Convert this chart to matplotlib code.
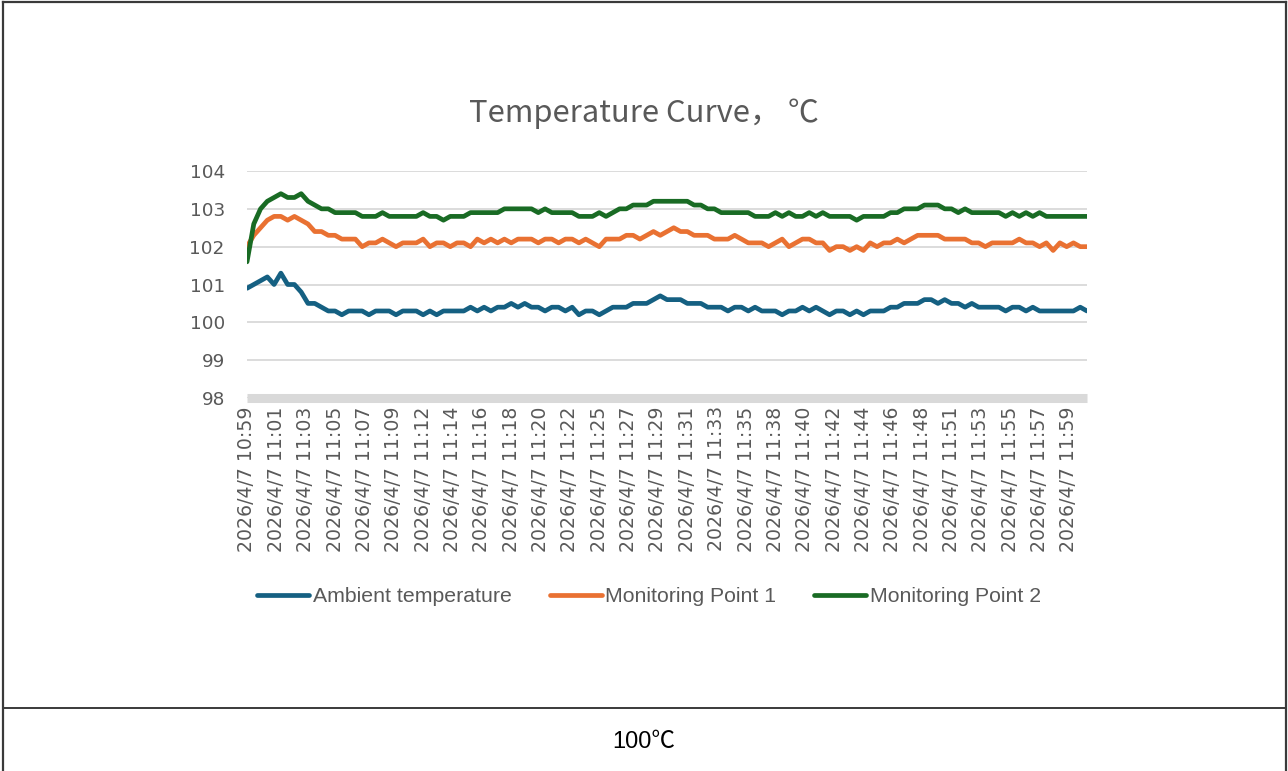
import matplotlib.pyplot as plt
import numpy as np
from matplotlib.lines import Line2D

# lecturas cada 30 s desde 2026/4/7 10:59
intervalo = 30  # segundos entre lecturas
paso_etiqueta = 130  # segundos entre etiquetas del eje x

ambiente = [
    100.9, 101.0, 101.1, 101.2, 101.0, 101.3, 101.0, 101.0, 100.8, 100.5,
    100.5, 100.4, 100.3, 100.3, 100.2, 100.3, 100.3, 100.3, 100.2, 100.3,
    100.3, 100.3, 100.2, 100.3, 100.3, 100.3, 100.2, 100.3, 100.2, 100.3,
    100.3, 100.3, 100.3, 100.4, 100.3, 100.4, 100.3, 100.4, 100.4, 100.5,
    100.4, 100.5, 100.4, 100.4, 100.3, 100.4, 100.4, 100.3, 100.4, 100.2,
    100.3, 100.3, 100.2, 100.3, 100.4, 100.4, 100.4, 100.5, 100.5, 100.5,
    100.6, 100.7, 100.6, 100.6, 100.6, 100.5, 100.5, 100.5, 100.4, 100.4,
    100.4, 100.3, 100.4, 100.4, 100.3, 100.4, 100.3, 100.3, 100.3, 100.2,
    100.3, 100.3, 100.4, 100.3, 100.4, 100.3, 100.2, 100.3, 100.3, 100.2,
    100.3, 100.2, 100.3, 100.3, 100.3, 100.4, 100.4, 100.5, 100.5, 100.5,
    100.6, 100.6, 100.5, 100.6, 100.5, 100.5, 100.4, 100.5, 100.4, 100.4,
    100.4, 100.4, 100.3, 100.4, 100.4, 100.3, 100.4, 100.3, 100.3, 100.3,
    100.3, 100.3, 100.3, 100.4, 100.3,
]
punto_1 = [
    102.0, 102.3, 102.5, 102.7, 102.8, 102.8, 102.7, 102.8, 102.7, 102.6,
    102.4, 102.4, 102.3, 102.3, 102.2, 102.2, 102.2, 102.0, 102.1, 102.1,
    102.2, 102.1, 102.0, 102.1, 102.1, 102.1, 102.2, 102.0, 102.1, 102.1,
    102.0, 102.1, 102.1, 102.0, 102.2, 102.1, 102.2, 102.1, 102.2, 102.1,
    102.2, 102.2, 102.2, 102.1, 102.2, 102.2, 102.1, 102.2, 102.2, 102.1,
    102.2, 102.1, 102.0, 102.2, 102.2, 102.2, 102.3, 102.3, 102.2, 102.3,
    102.4, 102.3, 102.4, 102.5, 102.4, 102.4, 102.3, 102.3, 102.3, 102.2,
    102.2, 102.2, 102.3, 102.2, 102.1, 102.1, 102.1, 102.0, 102.1, 102.2,
    102.0, 102.1, 102.2, 102.2, 102.1, 102.1, 101.9, 102.0, 102.0, 101.9,
    102.0, 101.9, 102.1, 102.0, 102.1, 102.1, 102.2, 102.1, 102.2, 102.3,
    102.3, 102.3, 102.3, 102.2, 102.2, 102.2, 102.2, 102.1, 102.1, 102.0,
    102.1, 102.1, 102.1, 102.1, 102.2, 102.1, 102.1, 102.0, 102.1, 101.9,
    102.1, 102.0, 102.1, 102.0, 102.0,
]
punto_2 = [
    101.6, 102.6, 103.0, 103.2, 103.3, 103.4, 103.3, 103.3, 103.4, 103.2,
    103.1, 103.0, 103.0, 102.9, 102.9, 102.9, 102.9, 102.8, 102.8, 102.8,
    102.9, 102.8, 102.8, 102.8, 102.8, 102.8, 102.9, 102.8, 102.8, 102.7,
    102.8, 102.8, 102.8, 102.9, 102.9, 102.9, 102.9, 102.9, 103.0, 103.0,
    103.0, 103.0, 103.0, 102.9, 103.0, 102.9, 102.9, 102.9, 102.9, 102.8,
    102.8, 102.8, 102.9, 102.8, 102.9, 103.0, 103.0, 103.1, 103.1, 103.1,
    103.2, 103.2, 103.2, 103.2, 103.2, 103.2, 103.1, 103.1, 103.0, 103.0,
    102.9, 102.9, 102.9, 102.9, 102.9, 102.8, 102.8, 102.8, 102.9, 102.8,
    102.9, 102.8, 102.8, 102.9, 102.8, 102.9, 102.8, 102.8, 102.8, 102.8,
    102.7, 102.8, 102.8, 102.8, 102.8, 102.9, 102.9, 103.0, 103.0, 103.0,
    103.1, 103.1, 103.1, 103.0, 103.0, 102.9, 103.0, 102.9, 102.9, 102.9,
    102.9, 102.9, 102.8, 102.9, 102.8, 102.9, 102.8, 102.9, 102.8, 102.8,
    102.8, 102.8, 102.8, 102.8, 102.8,
]

nombres = ["Ambient temperature", "Monitoring Point 1", "Monitoring Point 2"]
colores = ["#156082", "#E97132", "#196B24"]

etiquetas_x = [
    "2026/4/7 10:59", "2026/4/7 11:01", "2026/4/7 11:03", "2026/4/7 11:05",
    "2026/4/7 11:07", "2026/4/7 11:09", "2026/4/7 11:12", "2026/4/7 11:14",
    "2026/4/7 11:16", "2026/4/7 11:18", "2026/4/7 11:20", "2026/4/7 11:22",
    "2026/4/7 11:25", "2026/4/7 11:27", "2026/4/7 11:29", "2026/4/7 11:31",
    "2026/4/7 11:33", "2026/4/7 11:35", "2026/4/7 11:38", "2026/4/7 11:40",
    "2026/4/7 11:42", "2026/4/7 11:44", "2026/4/7 11:46", "2026/4/7 11:48",
    "2026/4/7 11:51", "2026/4/7 11:53", "2026/4/7 11:55", "2026/4/7 11:57",
    "2026/4/7 11:59",
]
valores_y = [98, 99, 100, 101, 102, 103, 104]

titulo = "Temperature Curve， ℃"
pie = "100℃"

gris = "#595959"
W, H = 1288, 771

fig = plt.figure(figsize=(W / 100, H / 100), dpi=100)
ax = fig.add_axes([247 / W, 1 - 398 / H, 840 / W, 227 / H])

tiempo = np.arange(len(ambiente)) * intervalo
for serie, nombre, color in zip([ambiente, punto_1, punto_2], nombres, colores):
    ax.plot(tiempo, serie, color=color, linewidth=3.4, label=nombre,
            solid_joinstyle="round", solid_capstyle="round")

ax.set_xlim(0, tiempo[-1])
ax.set_ylim(valores_y[0], valores_y[-1])
ax.set_yticks(valores_y)
ax.set_yticklabels([str(v) for v in valores_y], fontsize=13.3, color=gris,
                   family="DejaVu Sans")
ax.set_xticks(np.arange(len(etiquetas_x)) * paso_etiqueta)
ax.set_xticklabels(etiquetas_x, rotation=90, fontsize=13.6, color=gris,
                   family="DejaVu Sans")
ax.tick_params(axis="both", length=0)
ax.tick_params(axis="x", pad=6)
ax.tick_params(axis="y", pad=16)

ax.yaxis.grid(True, color="#d9d9d9", linewidth=1.3)
ax.set_axisbelow(True)
for lado in ["top", "left", "right"]:
    ax.spines[lado].set_visible(False)
ax.spines["bottom"].set_color("#d9d9d9")
ax.spines["bottom"].set_linewidth(6.5)
ax.spines["bottom"].set_capstyle("butt")

fig.text(644 / W, 1 - 122 / H, titulo, ha="center", va="baseline",
         fontsize=22.3, color=gris, family=["Noto Sans CJK SC", "DejaVu Sans"])

fig.legend(loc="center", bbox_to_anchor=(649 / W, 1 - 597 / H), ncol=3,
           frameon=False, handlelength=2.45, handletextpad=0.15,
           columnspacing=1.8, labelcolor=gris,
           prop={"family": "Liberation Sans", "size": 15.3})

# bordes de la tabla
borde = "#3a3a3a"
fig.add_artist(Line2D([2.5 / W, 2.5 / W], [0, 1 - 1.5 / H], color=borde, lw=1.6))
fig.add_artist(Line2D([1285.5 / W, 1285.5 / W], [0, 1 - 1.5 / H], color=borde, lw=1.6))
fig.add_artist(Line2D([2.5 / W, 1285.5 / W], [1 - 1.5 / H, 1 - 1.5 / H], color=borde, lw=1.6))
fig.add_artist(Line2D([2.5 / W, 1285.5 / W], [1 - 708 / H, 1 - 708 / H], color=borde, lw=1.4))

fig.text(644 / W, 1 - 742 / H, pie, ha="center", va="center", fontsize=17,
         color="black", family=["Liberation Sans", "Noto Sans CJK SC"])

fig.savefig("out.png", dpi=100)
